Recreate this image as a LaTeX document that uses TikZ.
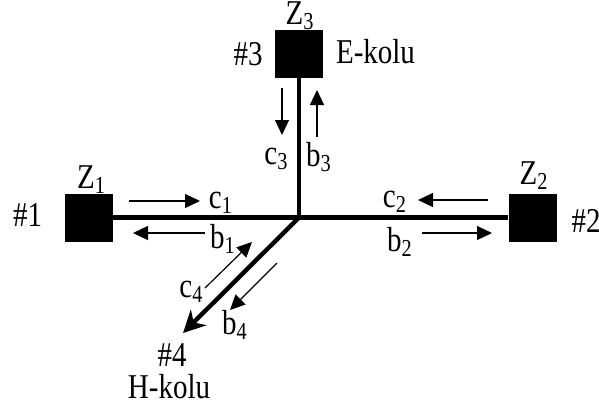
\documentclass[tikz,border=0pt]{standalone}
\usepackage{fontspec}
\setmainfont{Liberation Serif}
\usetikzlibrary{arrows.meta,positioning}
\newcommand{\talltxt}[1]{\scalebox{1}[1.2]{#1}}
\tikzset{
  portbox/.style={rectangle, fill=black, minimum size=24pt, inner sep=0pt},
  armline/.style={line width=2.2pt},
  armarrow/.style={line width=2.2pt, -{Stealth[length=11pt,width=11pt,inset=3.5pt]}},
  wavearrow/.style={line width=0.6pt, -{Triangle[length=7.5pt,width=7pt]}},
  lbl/.style={font=\fontsize{14.5}{17}\selectfont, inner sep=0pt, anchor=base},
}

\begin{document}
\begin{tikzpicture}[x=0.5pt, y=-0.5pt]
\useasboundingbox (0,0) rectangle (599,408);
% ports and junction
\node[portbox] (p1) at (89,217.5) {};
\node[portbox] (p2) at (532.5,217.5) {};
\node[portbox] (p3) at (299,54) {};
\coordinate (j) at (299,217.5);
\coordinate (p4) at (183,333);
% arms
\draw[armline] (p1) -- (j) -- (p2);
\draw[armline] (p3) -- (j);
\draw[armarrow] (j) -- (p4);
% port labels
\node[lbl] (z1) at (91.5,188) {\talltxt{Z\textsubscript{1}}};
\node[lbl] (z2) at (534,184) {\talltxt{Z\textsubscript{2}}};
\node[lbl] (z3) at (300,24.5) {\talltxt{Z\textsubscript{3}}};
\node[lbl] (n1) at (27.5,226) {\talltxt{\#1}};
\node[lbl] (n2) at (586,232) {\talltxt{\#2}};
\node[lbl] (n3) at (248,65) {\talltxt{\#3}};
\node[lbl] (n4) at (172,366) {\talltxt{\#4}};
\node[lbl] (ekol) at (375.5,63) {\talltxt{E-kolu}};
\node[lbl] (hkol) at (169,398) {\talltxt{H-kolu}};
% incident and reflected waves
\coordinate (c1a) at (129,201); \coordinate (c1b) at (200,201);
\coordinate (b1a) at (205,233); \coordinate (b1b) at (133,233);
\coordinate (c2a) at (488,200); \coordinate (c2b) at (418,200);
\coordinate (b2a) at (422,233); \coordinate (b2b) at (492,233);
\coordinate (c3a) at (282,88);  \coordinate (c3b) at (282,135);
\coordinate (b3a) at (317,137); \coordinate (b3b) at (317,90);
\coordinate (c4a) at (205,288); \coordinate (c4b) at (252,242);
\coordinate (b4a) at (277,263); \coordinate (b4b) at (230,310);
\draw[wavearrow] (c1a) -- (c1b);
\draw[wavearrow] (b1a) -- (b1b);
\draw[wavearrow] (c2a) -- (c2b);
\draw[wavearrow] (b2a) -- (b2b);
\draw[wavearrow] (c3a) -- (c3b);
\draw[wavearrow] (b3a) -- (b3b);
\draw[wavearrow] (c4a) -- (c4b);
\draw[wavearrow] (b4a) -- (b4b);
\node[lbl] (c1) at (221,208) {\talltxt{c\textsubscript{1}}};
\node[lbl] (b1) at (223,248) {\talltxt{b\textsubscript{1}}};
\node[lbl] (c2) at (395,207) {\talltxt{c\textsubscript{2}}};
\node[lbl] (b2) at (400,251) {\talltxt{b\textsubscript{2}}};
\node[lbl] (c3) at (276.5,164) {\talltxt{c\textsubscript{3}}};
\node[lbl] (b3) at (319,166) {\talltxt{b\textsubscript{3}}};
\node[lbl] (c4) at (191.5,297) {\talltxt{c\textsubscript{4}}};
\node[lbl] (b4) at (235,334) {\talltxt{b\textsubscript{4}}};
\end{tikzpicture}
\end{document}
